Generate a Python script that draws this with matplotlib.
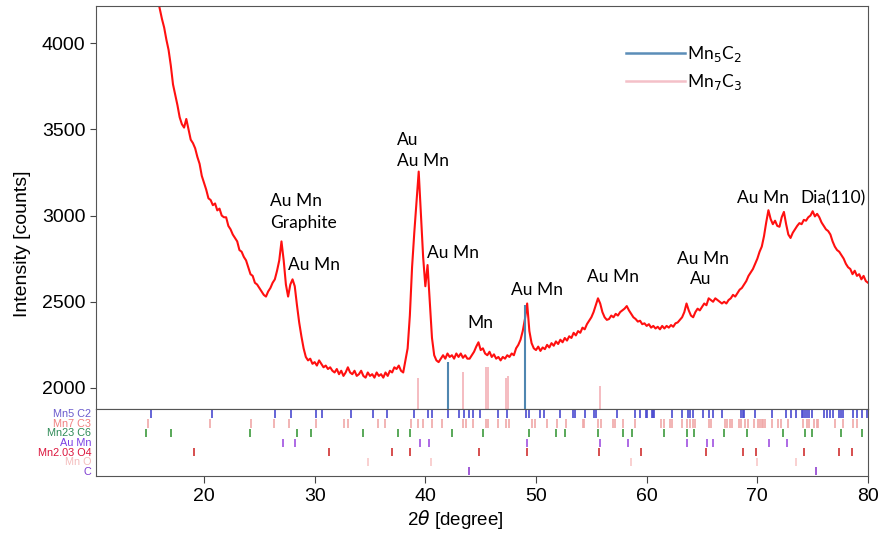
import numpy as np
import matplotlib
matplotlib.use('Agg')
import matplotlib.pyplot as plt

plt.rcParams['font.family'] = ['Liberation Sans', 'DejaVu Sans']
plt.rcParams['mathtext.fontset'] = 'dejavusans'

# XRD scan, every 0.2 degree (15.4 .. 80.0)
scan_start = 15.4
scan_step = 0.2
intensity = [
    4480, 4380, 4260,
    4200, 4140, 4090, 4020, 3960,
    3870, 3760, 3700, 3640, 3570,
    3530, 3510, 3560, 3500, 3440,
    3420, 3390, 3340, 3300, 3230,
    3190, 3150, 3100, 3090, 3060,
    3070, 3030, 3040, 3000, 2990,
    2990, 2940, 2920, 2890, 2870,
    2850, 2800, 2790, 2760, 2740,
    2700, 2660, 2650, 2610, 2600,
    2580, 2560, 2540, 2530, 2560,
    2580, 2610, 2630, 2680, 2740,
    2850, 2740, 2600, 2530, 2600,
    2630, 2590, 2480, 2380, 2300,
    2230, 2180, 2160, 2170, 2140,
    2150, 2130, 2160, 2140, 2120,
    2130, 2110, 2120, 2100, 2090,
    2110, 2080, 2100, 2070, 2090,
    2120, 2090, 2080, 2100, 2070,
    2080, 2100, 2070, 2060, 2090,
    2070, 2080, 2060, 2090, 2070,
    2080, 2060, 2090, 2070, 2100,
    2090, 2120, 2110, 2130, 2100,
    2090, 2160, 2230, 2420, 2700,
    2900, 3080, 3255, 3010, 2760,
    2590, 2713, 2500, 2290, 2190,
    2160, 2150, 2170, 2190, 2170,
    2200, 2180, 2190, 2170, 2200,
    2180, 2200, 2175, 2190, 2170,
    2170, 2190, 2210, 2240, 2265,
    2220, 2230, 2200, 2190, 2210,
    2180, 2195, 2170, 2180, 2160,
    2180, 2170, 2190, 2180, 2200,
    2190, 2230, 2250, 2280, 2330,
    2400, 2490, 2330, 2260, 2230,
    2220, 2240, 2215, 2235, 2225,
    2250, 2235, 2260, 2245, 2270,
    2255, 2280, 2265, 2290, 2275,
    2300, 2290, 2320, 2305, 2330,
    2320, 2350, 2340, 2370, 2390,
    2410, 2440, 2480, 2520, 2490,
    2440, 2410, 2395, 2400, 2420,
    2410, 2430, 2420, 2440, 2450,
    2460, 2475, 2450, 2430, 2410,
    2400, 2385, 2390, 2370, 2375,
    2360, 2370, 2350, 2360, 2345,
    2355, 2340, 2360, 2345, 2360,
    2350, 2365, 2355, 2375, 2380,
    2395, 2410, 2440, 2490, 2450,
    2420, 2410, 2440, 2460, 2450,
    2470, 2490, 2480, 2520, 2510,
    2500, 2520, 2510, 2500, 2490,
    2500, 2490, 2510, 2520, 2540,
    2530, 2550, 2570, 2580, 2600,
    2620, 2650, 2670, 2690, 2720,
    2750, 2790, 2820, 2880, 2960,
    3031, 2980, 2950, 2970, 2940,
    2935, 2990, 3021, 2950, 2890,
    2870, 2900, 2920, 2940, 2956,
    2950, 2975, 2970, 2990, 3000,
    3025, 2995, 3010, 2990, 2960,
    2940, 2920, 2910, 2890, 2850,
    2820, 2800, 2790, 2770, 2750,
    2720, 2700, 2690, 2660, 2680,
    2650, 2660, 2630, 2650, 2620,
    2610,
]
two_theta = scan_start + scan_step * np.arange(len(intensity))

# reference sticks in the main panel
mn5c2_pos = [42.05, 49.05]
mn5c2_top = [2150, 2480]
mn7c3_pos = [39.37, 43.4, 45.5, 45.7, 47.25, 47.45, 55.8]
mn7c3_top = [2060, 2090, 2120, 2120, 2060, 2070, 2010]

# peak labels (text, 2theta, intensity, ha)
peak_labels = [
    ('Au Mn', 25.96, 3083, 'left'),
    ('Graphite', 25.96, 2956, 'left'),
    ('Au Mn', 27.59, 2713, 'left'),
    ('Au', 37.44, 3437, 'left'),
    ('Au Mn', 37.44, 3315, 'left'),
    ('Au Mn', 40.15, 2782, 'left'),
    ('Mn', 43.76, 2377, 'left'),
    ('Au Mn', 47.74, 2568, 'left'),
    ('Au Mn', 54.61, 2643, 'left'),
    ('Au Mn', 65.09, 2747, 'center'),
    ('Au', 64.9, 2632, 'center'),
    ('Au Mn', 68.16, 3101, 'left'),
    ('Dia(110)', 73.85, 3101, 'left'),
]

# phase reference positions for the strip below
phase_names = ['Mn5 C2', 'Mn7 C3', 'Mn23 C6', 'Au Mn', 'Mn2.03 O4', 'Mn O', 'C']
phase_label_colors = ['#6a5acd', '#f08080', '#2e8b57', '#7b3fe4', '#dc143c', '#f4bcbc', '#7d3cd0']
phase_tick_colors = ['#4a4ad0', '#f0a8a8', '#3c9a3c', '#a050e0', '#d03030', '#f8c8c8', '#9040d0']
mn5c2_ref = [15.21, 20.75, 26.42, 27.83, 30.09, 30.63, 33.26, 35.24, 36.55, 39.0, 40.2, 40.57,
             42.07, 43.0, 43.5, 43.9, 44.3, 44.9, 46.6, 47.4, 49.1, 49.4, 50.4, 50.7, 52.2,
             53.3, 53.5, 54.4, 55.2, 55.4, 57.3, 58.9, 59.4, 59.9, 60.0, 60.5, 60.6, 60.7,
             62.3, 63.2, 63.76, 63.91, 64.21, 65.06, 65.66, 66.02, 66.83, 68.52, 68.67, 68.82,
             69.79, 71.3, 72.59, 73.01, 73.49, 74.0, 74.15, 74.3, 74.51, 74.69, 74.9, 76.02,
             76.26, 76.56, 76.86, 77.38, 77.53, 77.71, 78.61, 78.97, 79.48, 79.93]
mn7c3_ref = [14.91, 20.54, 24.25, 26.35, 27.71, 30.09, 32.65, 33.04, 35.75, 36.38, 38.68, 39.31,
             39.76, 40.57, 41.53, 43.43, 43.67, 44.33, 45.48, 45.69, 46.54, 47.29, 47.56, 49.61,
             49.91, 50.96, 51.87, 52.71, 54.22, 54.34, 55.64, 55.85, 56.93, 57.14, 57.89, 58.95,
             61.25, 61.6, 62.1, 62.3, 63.17, 63.62, 63.91, 64.21, 64.37, 65.66, 65.81, 67.08,
             67.23, 67.53, 67.68, 68.34, 68.52, 68.88, 69.18, 69.72, 70.03, 70.24, 70.39, 70.54,
             70.69, 71.3, 71.9, 72.11, 72.8, 74.15, 74.45, 74.69, 75.14, 75.36, 75.5, 77.0,
             77.7, 78.67, 78.97]
mn23c6_ref = [14.76, 17.05, 24.16, 28.38, 29.67, 34.39, 37.56, 38.61, 42.38, 45.18, 49.4, 51.8,
              52.62, 55.63, 57.89, 58.65, 61.55, 63.62, 64.3, 67.01, 69.04, 72.35, 74.3, 74.96,
              77.53, 79.48]
aumn_ref = [27.11, 28.22, 39.52, 40.33, 49.21, 55.78, 58.34, 63.67, 65.48, 65.97, 71.05, 72.71]
mn2o4_ref = [19.10, 31.32, 36.96, 38.61, 44.88, 49.16, 55.69, 59.46, 65.33, 68.67, 69.85,
             74.24, 77.4, 78.52]
mno_ref = [34.85, 40.51, 58.55, 69.94, 73.49]
c_ref = [43.97, 75.27]
phase_refs = [mn5c2_ref, mn7c3_ref, mn23c6_ref, aumn_ref, mn2o4_ref, mno_ref, c_ref]

fig = plt.figure(figsize=(8.88, 5.33), dpi=100)
ax = fig.add_axes([0.1081, 0.2326, 0.8694, 0.7561])
axb = fig.add_axes([0.1081, 0.107, 0.8694, 0.1257], sharex=ax)

ax.vlines(mn7c3_pos, 1800, mn7c3_top, color='#f4b6bc', lw=1.3, zorder=1)
ax.plot(two_theta, intensity, color='#ff1010', lw=1.5, zorder=2)
ax.vlines(mn5c2_pos, 1800, mn5c2_top, color='#4f86b0', lw=1.5, zorder=3)

# legend handles
ax.plot([], [], color='#5b8db8', lw=1.8, label='Mn$_5$C$_2$')
ax.plot([], [], color='#f4c0c8', lw=1.8, label='Mn$_7$C$_3$')
ax.legend(loc='upper left', bbox_to_anchor=(0.686, 0.905), frameon=False,
          handlelength=3.4, handletextpad=0.12, labelspacing=0.45, borderpad=0,
          borderaxespad=0, prop={'family': 'Lato', 'size': 12.5})

for txt, x, y, ha in peak_labels:
    ax.text(x, y, txt, ha=ha, va='center', fontsize=12.5, family='Lato', color='black')

ax.set_xlim(10.24, 80)
ax.set_ylim(1878, 4215)
ax.set_yticks([2000, 2500, 3000, 3500, 4000])
ax.tick_params(axis='x', bottom=False, labelbottom=False)
ax.tick_params(axis='y', labelsize=14, length=4, color='#444444')
ax.set_ylabel('Intensity [counts]', fontsize=14)
ax.yaxis.set_label_coords(-0.084, 0.41)
for s in ax.spines.values():
    s.set_color('#555555')

# phase strip
for i, (pos, col) in enumerate(zip(phase_refs, phase_tick_colors)):
    axb.vlines(pos, i + 0.1, i + 0.95, color=col, lw=1.2)
    axb.text(-0.006, 1 - (i + 0.55) / 7, phase_names[i], transform=axb.transAxes,
             ha='right', va='center', fontsize=7.8, color=phase_label_colors[i])
axb.set_ylim(7, 0)
axb.set_yticks([])
axb.set_xticks([20, 30, 40, 50, 60, 70, 80])
axb.tick_params(axis='x', labelsize=14, length=5, color='#444444')
axb.set_xlabel(r'2$\theta$ [degree]', fontsize=13.5)
axb.xaxis.set_label_coords(0.466, -0.48)
for s in axb.spines.values():
    s.set_color('#555555')

fig.savefig('out.png', dpi=100)
